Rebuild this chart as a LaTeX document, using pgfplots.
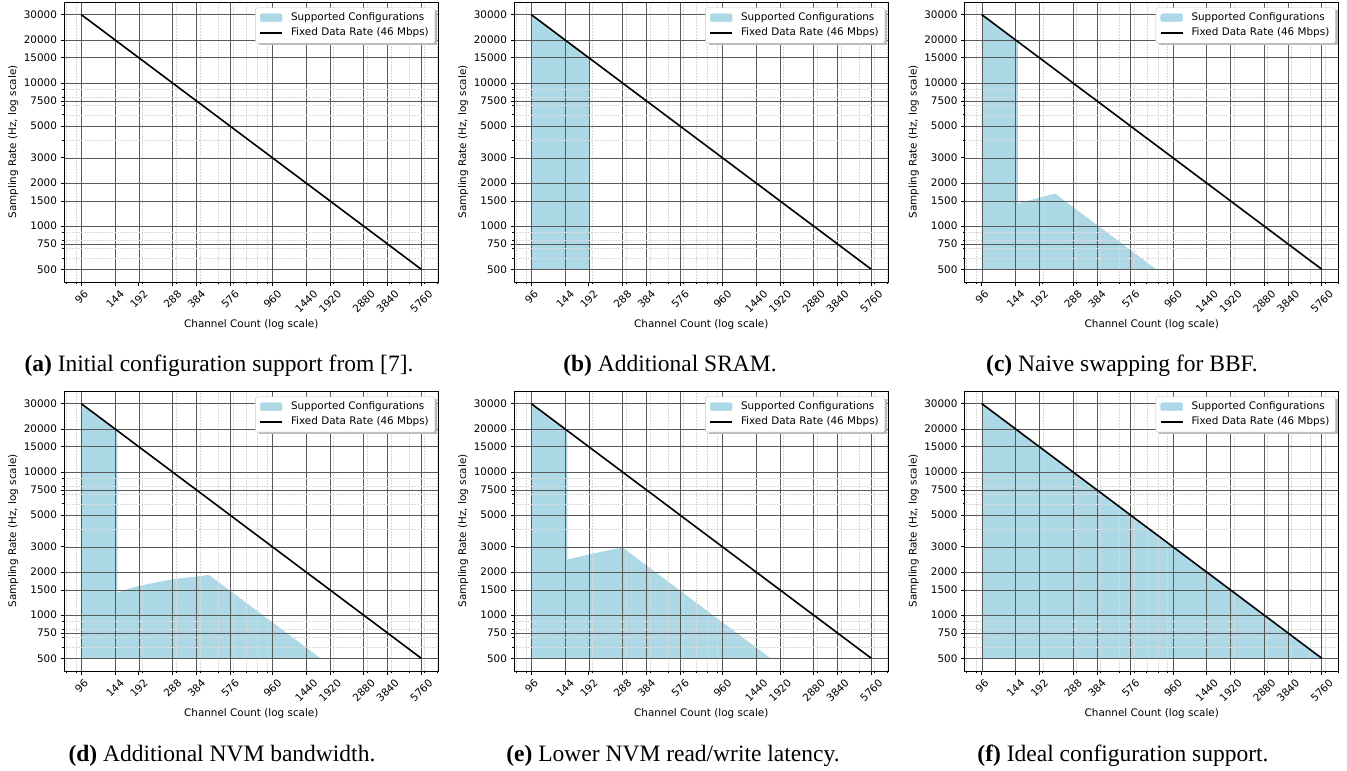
\documentclass[border=0pt]{standalone}
\usepackage{graphicx}
\usepackage{pgfplots}
\pgfplotsset{compat=1.18}
\usepackage{fontspec}
\setmainfont{DejaVu Sans}
\newfontfamily\capfont{Liberation Serif}
\definecolor{lblue}{HTML}{ADD8E6}

\newcommand{\rl}[1]{\rotatebox{45}{#1}}
\newcommand{\fs}{\fontsize{10.4}{12.5}\selectfont}

\pgfplotsset{
 mypanel/.style={
  scale only axis, width=374pt, height=280pt, anchor=south west,
  xmin=78.2, xmax=7070, ymin=407.5, ymax=36800,
  xtick={96,144,192,288,384,576,960,1440,1920,2880,3840,5760},
  xticklabels={\rl{96},\rl{144},\rl{192},\rl{288},\rl{384},\rl{576},\rl{960},\rl{1440},\rl{1920},\rl{2880},\rl{3840},\rl{5760}},
  ytick={500,750,1000,1500,2000,3000,5000,7500,10000,15000,20000,30000},
  yticklabels={500,750,1000,1500,2000,3000,5000,7500,10000,15000,20000,30000},
  minor xtick={80,90,200,300,400,500,600,700,800,900,2000,3000,4000,5000,6000,7000},
  minor ytick={600,700,800,900,4000,6000,7000,8000,9000},
  grid=both,
  major grid style={black!65, line width=0.6pt},
  minor grid style={gray!30, line width=0.5pt, densely dotted},
  tick align=outside, tick pos=left,
  major tick length=3.6pt, minor tick length=2pt,
  major tick style={black, line width=0.8pt},
  minor tick style={black, line width=0.6pt},
  axis line style={black, line width=0.8pt},
  tick label style={font=\fs},
  xticklabel style={anchor=north, inner sep=0pt, yshift=-3.6pt},
  yticklabel style={anchor=east, inner sep=0pt, xshift=-3.6pt},
  xlabel={Channel Count (log scale)},
  ylabel={Sampling Rate (Hz, log scale)},
  label style={font=\fs},
  xlabel style={at={(axis description cs:0.5,-0.1536)}, anchor=center},
  ylabel style={at={(axis description cs:-0.1364,0.5)}, anchor=center},
  legend cell align=left,
  legend style={at={(1,1)}, anchor=north east, xshift=-3.3pt, yshift=-5.6pt,
    draw=black!22, rounded corners=2pt, fill=white,
    font=\fs, row sep=3pt, column sep=6pt,
    inner xsep=4pt, inner ysep=3.7pt,
    nodes={inner xsep=2pt, inner ysep=1pt, text height=8pt, text depth=2.5pt}},
  set layers,
 },
 fillarea/.style={fill=lblue, draw=none, forget plot, on layer=axis background},
 rateline/.style={black, line width=1.6pt, forget plot},
}

\newcommand{\legendentries}{%
  \fill[gray!55] ([xshift=-179.6pt, yshift=-7.6pt]rel axis cs:1,1) rectangle ([xshift=-1.3pt, yshift=-43pt]rel axis cs:1,1);
  \addlegendimage{legend image code/.code={\fill[lblue] (0pt,-4pt) rectangle (22pt,4pt);}}
  \addlegendentry{Supported Configurations}
  \addlegendimage{legend image code/.code={\draw[black, line width=1.6pt] (0pt,0pt) -- (22pt,0pt);}}
  \addlegendentry{Fixed Data Rate (46 Mbps)}
}

\newcommand{\subcap}[2]{{\capfont\fontsize{23.5}{28}\selectfont\textbf{(#1)} #2}}

\begin{document}
\begin{tikzpicture}
\path (0,0) rectangle (1347pt,769pt);

% (a)
\begin{loglogaxis}[mypanel, at={(64.3pt,487pt)}]
  \addplot[rateline] coordinates {(96,30000) (5760,500)};
  \legendentries
\end{loglogaxis}

% (b)
\begin{loglogaxis}[mypanel, at={(514.3pt,487pt)}]
  \addplot[fillarea] coordinates {(96,500) (96,30000) (192,15000) (192,500)};
  \addplot[rateline] coordinates {(96,30000) (5760,500)};
  \legendentries
\end{loglogaxis}

% (c)
\begin{loglogaxis}[mypanel, at={(964.8pt,487pt)}]
  \addplot[fillarea] coordinates {(96,500) (96,30000) (148,19459) (148,1440) (232,1690) (784,500)};
  \addplot[rateline] coordinates {(96,30000) (5760,500)};
  \legendentries
\end{loglogaxis}

% (d)
\begin{loglogaxis}[mypanel, at={(64.3pt,98pt)}]
  \addplot[fillarea] coordinates {(96,500) (96,30000) (148,19459) (148,1440) (170,1530) (192,1603) (240,1700) (288,1783) (340,1830) (384,1862) (446,1913) (1712,500)};
  \addplot[rateline] coordinates {(96,30000) (5760,500)};
  \legendentries
\end{loglogaxis}

% (e)
\begin{loglogaxis}[mypanel, at={(514.3pt,98pt)}]
  \addplot[fillarea] coordinates {(96,500) (96,30000) (148,19459) (148,2449) (192,2655) (240,2830) (288,2972) (1712,500)};
  \addplot[rateline] coordinates {(96,30000) (5760,500)};
  \legendentries
\end{loglogaxis}

% (f)
\begin{loglogaxis}[mypanel, at={(964.8pt,98pt)}]
  \addplot[fillarea] coordinates {(96,500) (96,30000) (5760,500)};
  \addplot[rateline] coordinates {(96,30000) (5760,500)};
  \legendentries
\end{loglogaxis}

\node[anchor=base] at (219pt,397.3pt) {\subcap{a}{Initial configuration support from [7].}};
\node[anchor=base] at (670pt,397.3pt) {\subcap{b}{Additional SRAM.}};
\node[anchor=base] at (1122pt,397.3pt) {\subcap{c}{Naive swapping for BBF.}};
\node[anchor=base] at (222pt,7.3pt) {\subcap{d}{Additional NVM bandwidth.}};
\node[anchor=base] at (673pt,7.3pt) {\subcap{e}{Lower NVM read/write latency.}};
\node[anchor=base] at (1123pt,7.3pt) {\subcap{f}{Ideal configuration support.}};
\end{tikzpicture}
\end{document}
